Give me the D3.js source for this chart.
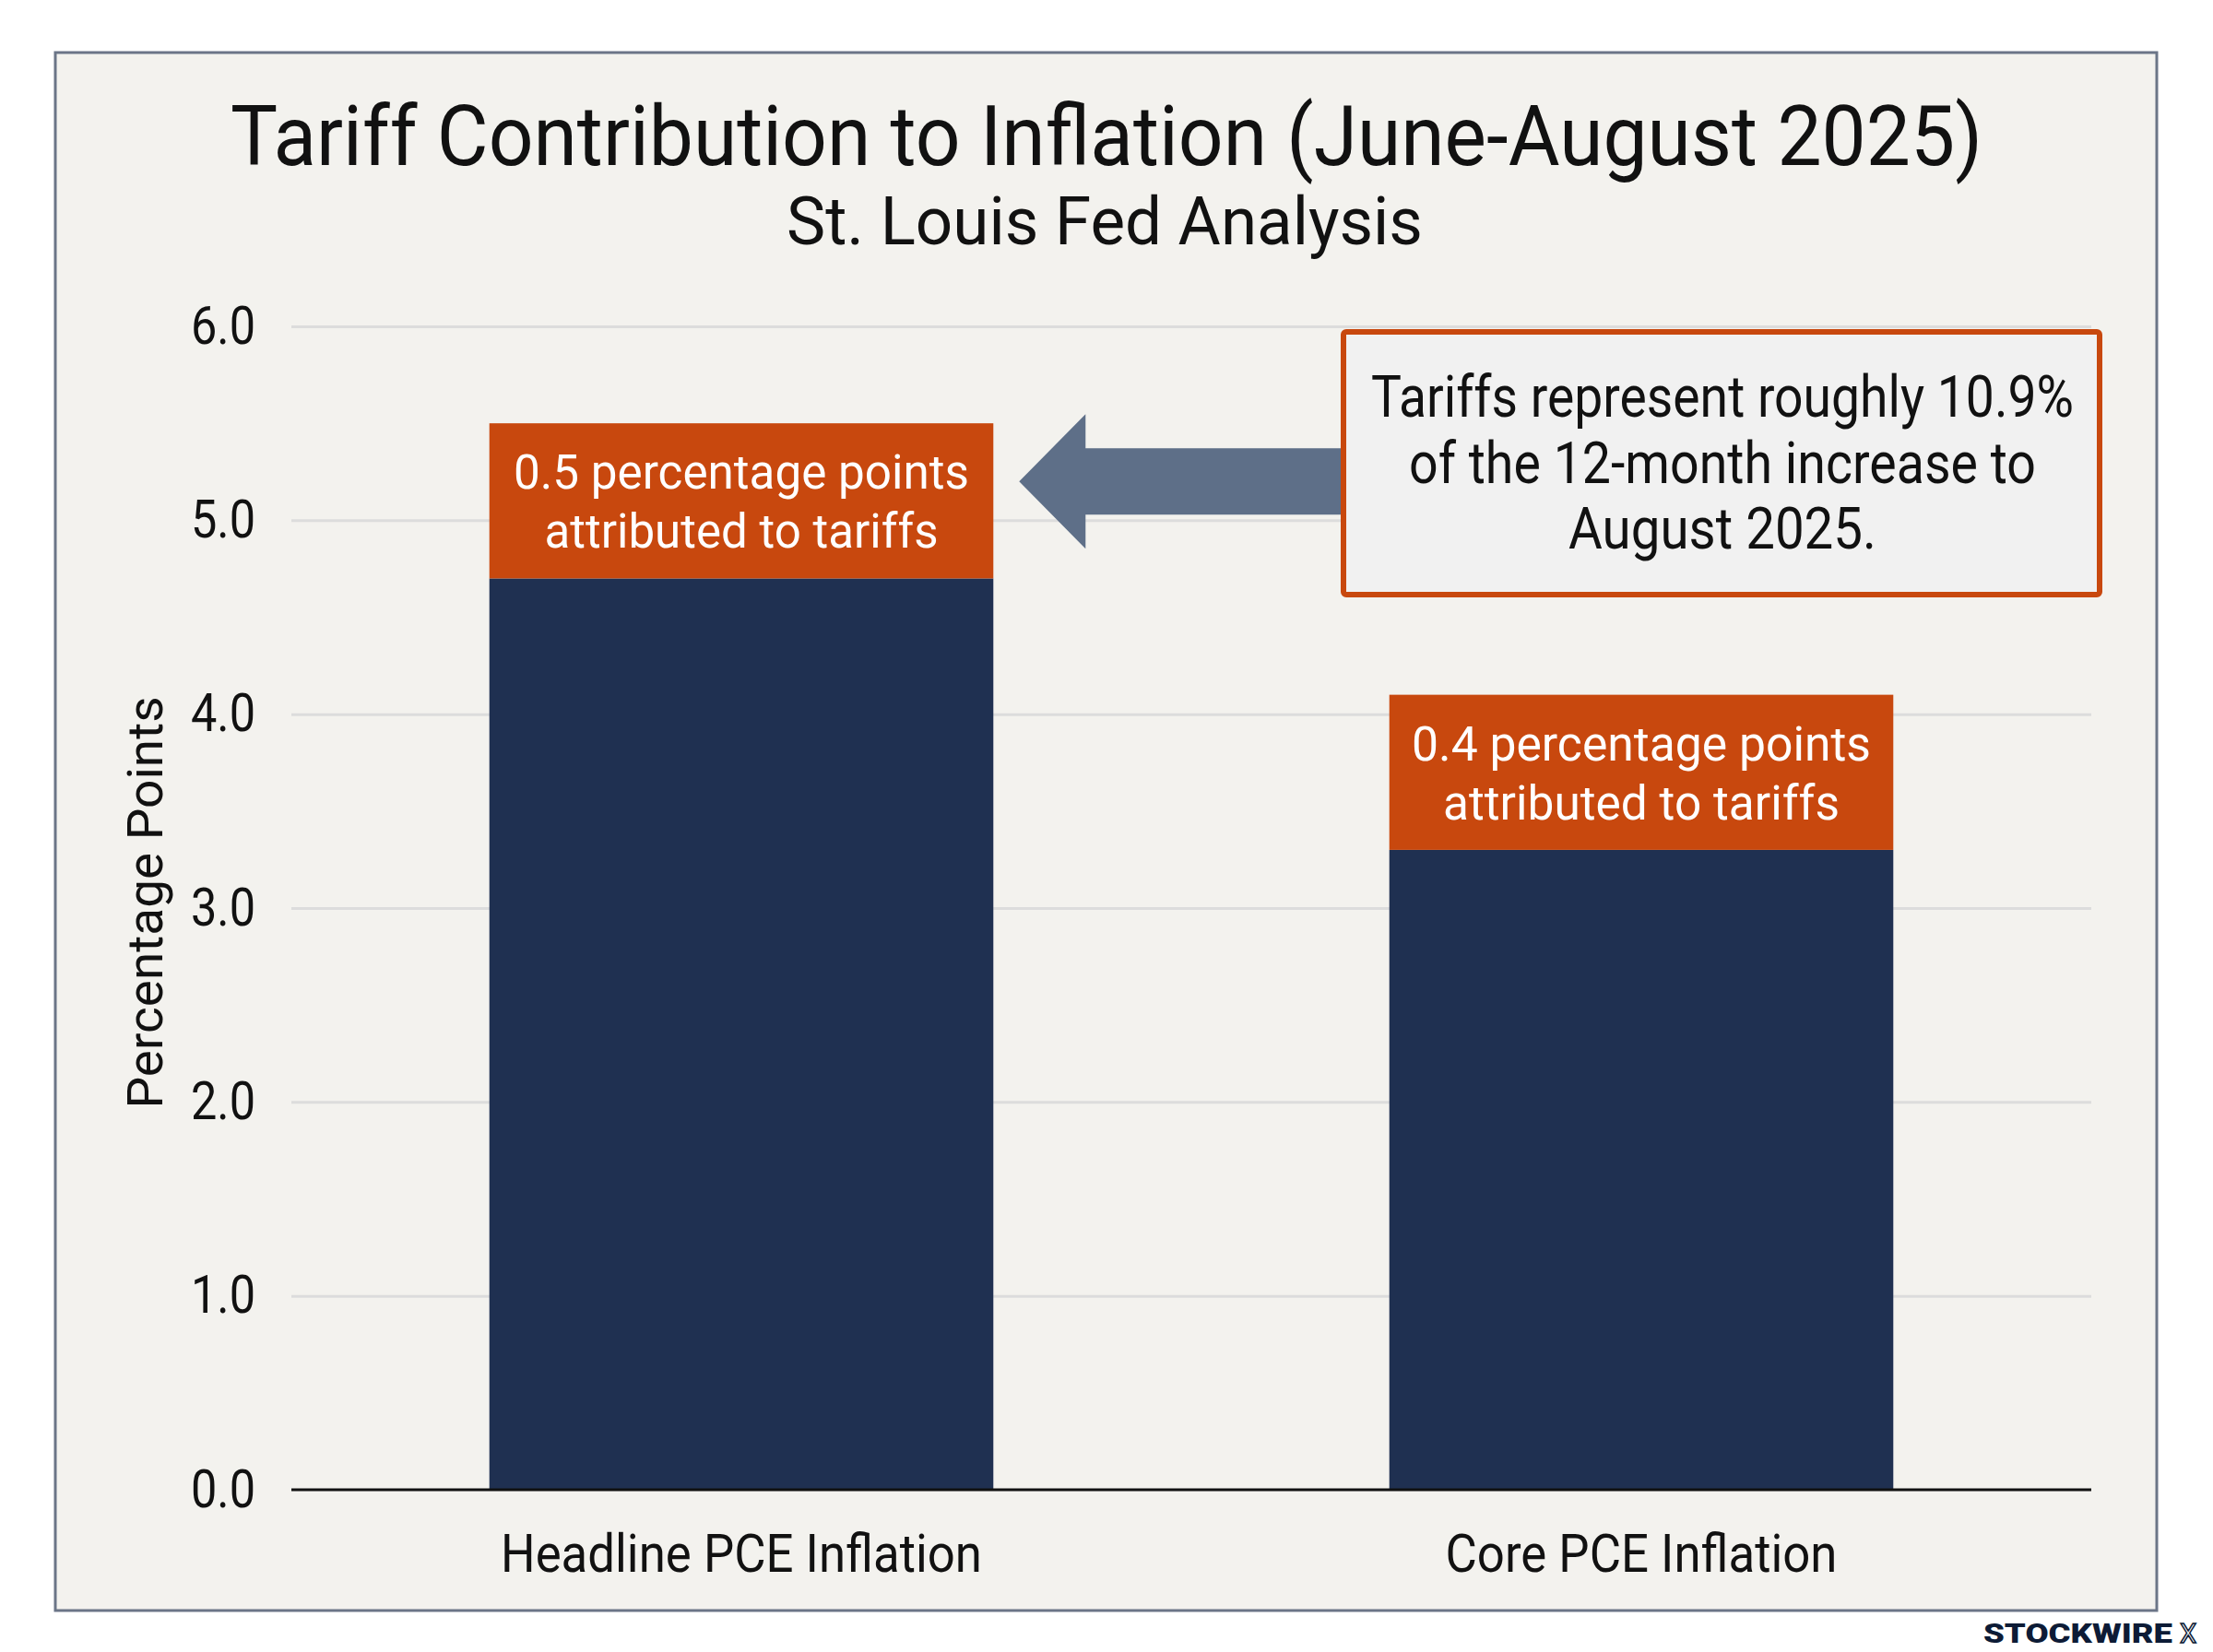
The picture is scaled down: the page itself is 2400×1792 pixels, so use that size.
<!DOCTYPE html>
<html>
<head>
<meta charset="utf-8">
<script src="https://d3js.org/d3.v7.min.js"></script>
<style>
body { margin: 0; background: #ffffff; }
text { font-family: Roboto, "Liberation Sans", sans-serif; }
</style>
</head>
<body>
<div id="chart"></div>
<script>
// chart values
var categories = ["Headline PCE Inflation", "Core PCE Inflation"];
var baseValues = [4.7, 3.3];
var tariffValues = [0.8, 0.8];
var tariffLabels = [
  ["0.5 percentage points", "attributed to tariffs"],
  ["0.4 percentage points", "attributed to tariffs"]
];
var yTicks = [0, 1, 2, 3, 4, 5, 6];
var noteLines = ["Tariffs represent roughly 10.9%", "of the 12-month increase to", "August 2025."];
var arrowValue = 5.2;

var W = 2400, H = 1792;
var plotLeft = 316, plotRight = 2268, plotTop = 354, plotBottom = 1616;

var svg = d3.select("#chart").append("svg")
  .attr("width", W).attr("height", H);

// frame
svg.append("rect")
  .attr("x", 60).attr("y", 57).attr("width", 2279).attr("height", 1690)
  .attr("fill", "#f3f2ee").attr("stroke", "#6b7587").attr("stroke-width", 3);

svg.append("text")
  .attr("x", 1200).attr("y", 179).attr("text-anchor", "middle")
  .attr("font-size", 90).attr("fill", "#111")
  .attr("textLength", 1900).attr("lengthAdjust", "spacingAndGlyphs")
  .text("Tariff Contribution to Inflation (June-August 2025)");

svg.append("text")
  .attr("x", 1198).attr("y", 265).attr("text-anchor", "middle")
  .attr("font-size", 72).attr("fill", "#111")
  .attr("textLength", 690).attr("lengthAdjust", "spacingAndGlyphs")
  .text("St. Louis Fed Analysis");

var y = d3.scaleLinear().domain([0, 6]).range([plotBottom, plotTop]);
var x = d3.scaleBand().domain(categories).range([plotLeft, plotRight])
  .paddingInner(0.44).paddingOuter(0.22);

// gridlines
var grid = svg.append("g").attr("transform", "translate(" + plotLeft + ",0)")
  .call(d3.axisLeft(y).tickValues(yTicks.slice(1)).tickSize(-(plotRight - plotLeft)).tickFormat(""));
grid.select(".domain").remove();
grid.selectAll("line").attr("stroke", "#dcdcdc").attr("stroke-width", 3);

// y tick labels
var yAxis = svg.append("g").attr("transform", "translate(" + plotLeft + ",0)")
  .call(d3.axisLeft(y).tickValues(yTicks).tickSize(0).tickPadding(39).tickFormat(d3.format(".1f")));
yAxis.select(".domain").remove();
yAxis.selectAll("text")
  .attr("font-size", 57).attr("fill", "#111")
  .attr("font-family", "Roboto, sans-serif")
  .attr("textLength", 70).attr("lengthAdjust", "spacingAndGlyphs");

svg.append("text")
  .attr("transform", "translate(176,979) rotate(-90)")
  .attr("text-anchor", "middle").attr("font-size", 54).attr("fill", "#111")
  .attr("textLength", 447).attr("lengthAdjust", "spacingAndGlyphs")
  .text("Percentage Points");

// bars
var bars = svg.append("g").selectAll("g")
  .data(categories).enter().append("g");

bars.append("rect")
  .attr("x", function(d) { return x(d); })
  .attr("width", x.bandwidth())
  .attr("y", function(d, i) { return y(baseValues[i]); })
  .attr("height", function(d, i) { return y(0) - y(baseValues[i]); })
  .attr("fill", "#1f3051");

bars.append("rect")
  .attr("x", function(d) { return x(d); })
  .attr("width", x.bandwidth())
  .attr("y", function(d, i) { return y(baseValues[i] + tariffValues[i]); })
  .attr("height", function(d, i) { return y(baseValues[i]) - y(baseValues[i] + tariffValues[i]); })
  .attr("fill", "#c8480e");

var lineWidths = [[494, 427], [498, 430]];
bars.each(function(d, i) {
  var g = d3.select(this);
  var t = y(baseValues[i] + tariffValues[i]);
  tariffLabels[i].forEach(function(s, j) {
    g.append("text")
      .attr("x", x(d) + x.bandwidth() / 2)
      .attr("y", t + 71 + j * 64)
      .attr("text-anchor", "middle").attr("font-size", 51).attr("fill", "#ffffff")
      .attr("textLength", lineWidths[i][j]).attr("lengthAdjust", "spacingAndGlyphs")
      .text(s);
  });
});

// baseline
svg.append("line")
  .attr("x1", plotLeft).attr("x2", plotRight).attr("y1", y(0)).attr("y2", y(0))
  .attr("stroke", "#111").attr("stroke-width", 3);

// x labels
var xLabelWidths = [522, 425];
var xAxis = svg.append("g").attr("transform", "translate(0," + plotBottom + ")")
  .call(d3.axisBottom(x).tickSize(0));
xAxis.select(".domain").remove();
xAxis.selectAll("text")
  .attr("y", 89).attr("dy", 0)
  .attr("font-size", 58).attr("fill", "#111")
  .attr("font-family", "Roboto, sans-serif")
  .attr("textLength", function(d, i) { return xLabelWidths[i]; })
  .attr("lengthAdjust", "spacingAndGlyphs");

// note box
var boxX = 1457, boxY = 360, boxW = 820, boxH = 285;
svg.append("rect")
  .attr("x", boxX).attr("y", boxY).attr("width", boxW).attr("height", boxH)
  .attr("rx", 3)
  .attr("fill", "#f1f1f1").attr("stroke", "#c8480e").attr("stroke-width", 6);

var noteWidths = [762, 680, 334];
noteLines.forEach(function(s, j) {
  svg.append("text")
    .attr("x", boxX + boxW / 2 + 1).attr("y", 452 + j * 71.5)
    .attr("text-anchor", "middle").attr("font-size", 63).attr("fill", "#111")
    .attr("textLength", noteWidths[j]).attr("lengthAdjust", "spacingAndGlyphs")
    .text(s);
});

// arrow pointing at the headline bar
var ay = y(arrowValue);
var tipX = x(categories[0]) + x.bandwidth() + 28;
var tailX = boxX - 3;
var arrow = d3.path();
arrow.moveTo(tipX, ay);
arrow.lineTo(tipX + 72, ay - 73);
arrow.lineTo(tipX + 72, ay - 36);
arrow.lineTo(tailX, ay - 36);
arrow.lineTo(tailX, ay + 36);
arrow.lineTo(tipX + 72, ay + 36);
arrow.lineTo(tipX + 72, ay + 73);
arrow.closePath();
svg.append("path").attr("d", arrow.toString()).attr("fill", "#5e6f88");

// watermark
svg.append("text")
  .attr("x", 2356).attr("y", 1782).attr("text-anchor", "end")
  .attr("font-size", 29).attr("font-weight", 900).attr("fill", "#0d1b36")
  .attr("textLength", 205).attr("lengthAdjust", "spacingAndGlyphs")
  .text("STOCKWIRE");
svg.append("text")
  .attr("x", 2364).attr("y", 1782)
  .attr("font-size", 29).attr("font-weight", 400).attr("fill", "none")
  .attr("stroke", "#0d1b36").attr("stroke-width", 1.5)
  .text("X");
</script>
</body>
</html>
